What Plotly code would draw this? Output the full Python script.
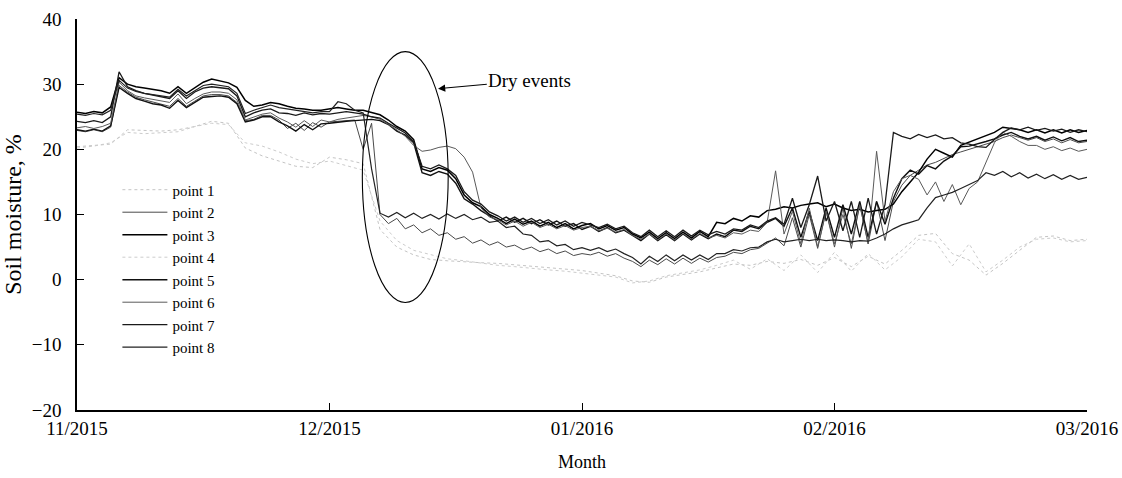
import plotly.graph_objects as go

# ---- data (daily readings, day 0 = 1 Nov 2015, day 120 = 1 Mar 2016) ----
DAYS = list(range(0, 121))
DAYS2 = list(range(0, 121, 2))

MONTH_TICKS = [0, 30, 60, 90, 120]
MONTH_LABELS = ["11/2015", "12/2015", "01/2016", "02/2016", "03/2016"]

point1 = [20.4, 20.6, 20.8, 23.0, 22.9, 22.8, 23.0, 23.5, 24.3, 24.0,
          20.2, 19.0, 18.2, 17.4, 17.2, 18.8, 18.4, 17.8, 7.7, 5.0,
          3.8, 3.1, 2.9, 2.7, 2.6, 2.5, 2.3, 2.1, 1.8, 1.6,
          1.4, 1.0, 0.6, -0.2, -0.4, 0.4, 0.8, 1.2, 1.8, 2.4,
          2.2, 2.8, 2.5, 3.1, 2.2, 3.4, 2.0, 3.6, 2.4, 4.5,
          6.8, 7.1, 4.0, 3.0, 0.7, 2.5, 4.5, 6.5, 6.7, 6.0, 6.2]

point4 = [20.2, 20.5, 21.0, 22.6, 22.4, 22.5, 22.7, 23.5, 24.0, 23.8,
          21.0, 20.5, 19.6, 18.5, 17.8, 18.2, 17.5, 16.8, 9.0, 6.0,
          4.5, 3.8, 3.2, 2.9, 2.5, 2.2, 2.0, 1.7, 1.5, 1.3,
          1.0, 0.8, 0.4, -0.5, -0.2, 0.6, 1.0, 1.5, 2.2, 3.0,
          1.6, 3.2, 1.4, 3.8, 1.1, 4.2, 1.3, 4.0, 1.5, 3.5,
          6.2, 5.8, 2.1, 5.5, 1.2, 3.0, 5.0, 6.2, 6.4, 5.8, 6.0]

point2 = [22.9, 22.7, 23.0, 22.7, 23.4, 29.8, 28.8, 28.0, 27.6, 27.3, 27.0,
          26.6, 27.8, 26.6, 27.4, 28.2, 28.4, 28.4, 28.2, 27.2, 24.4,
          24.6, 25.2, 25.2, 24.5, 23.2, 24.0, 22.9, 24.1, 23.4, 24.2,
          24.3, 24.4, 24.5, 20.0, 24.0, 10.0, 8.6, 9.4, 7.8, 8.4,
          7.2, 7.8, 6.8, 7.2, 6.2, 6.6, 5.6, 6.1, 5.3, 5.8,
          5.0, 5.3, 4.6, 5.0, 4.3, 4.7, 4.0, 4.4, 3.7, 4.0,
          3.8, 4.2, 3.6, 4.0, 3.3, 2.8, 2.0, 3.0, 2.3, 3.2,
          2.4, 3.3, 2.5, 3.3, 2.7, 3.4, 3.6, 4.2, 4.0, 4.6,
          4.8, 5.6, 6.4, 5.2, 9.5, 5.0, 10.0, 4.8, 10.5, 5.0,
          11.0, 4.8, 11.5, 5.5, 12.0, 6.0, 12.0, 14.5, 16.0, 16.8,
          17.6, 18.0, 18.6, 19.2, 19.6, 20.0, 20.4, 20.8, 21.2, 21.8,
          22.2, 21.8, 21.4, 21.8, 21.2, 21.6, 21.0, 21.5, 21.0, 21.2]

point3 = [25.7, 25.5, 25.8, 25.6, 26.5, 31.0, 30.0, 29.6, 29.4, 29.2, 29.0,
          28.6, 29.6, 28.6, 29.5, 30.3, 30.8, 30.5, 30.2, 29.5, 27.5,
          26.6, 26.8, 27.2, 27.0, 26.6, 26.3, 26.2, 26.0, 26.0, 26.2,
          26.4, 26.2, 26.0, 26.0, 25.6, 25.3, 24.5, 23.5, 22.8, 21.5,
          17.0, 16.6, 17.2, 16.8, 15.5, 13.0, 11.8, 11.2, 10.0, 9.4,
          8.6, 9.3, 8.5, 9.0, 8.2, 8.8, 8.0, 8.6, 7.8, 8.3,
          8.6, 7.8, 8.3, 7.6, 8.0, 7.0, 6.4, 7.3, 6.3, 7.2,
          6.3, 7.3, 6.4, 7.4, 6.6, 8.8, 8.6, 9.4, 9.0, 9.8,
          9.6, 10.6, 10.8, 11.2, 11.0, 11.4, 11.6, 11.8, 11.2, 11.6,
          11.0, 10.6, 10.8, 10.4, 10.6, 10.8, 11.6, 13.5, 15.0, 16.5,
          18.5, 20.0, 19.4, 18.8, 20.6, 21.1, 21.6, 22.0, 22.6, 23.4,
          23.2, 23.0, 22.6, 23.0, 22.5, 23.0, 22.5, 23.0, 22.6, 22.9]

point5 = [23.0, 22.8, 23.1, 22.8, 23.6, 29.5, 28.6, 27.8, 27.4, 27.0, 26.8,
          26.3, 27.5, 26.4, 27.2, 28.0, 28.1, 28.2, 28.0, 27.0, 24.2,
          24.5, 25.0, 25.0, 24.2, 23.6, 22.8, 23.8, 23.0, 23.9, 24.0,
          24.2, 24.3, 24.4, 24.5, 24.6, 24.4, 23.8, 22.8, 22.2, 21.0,
          16.4, 16.0, 16.6, 16.2, 14.8, 12.4, 11.6, 10.6, 9.8, 9.0,
          9.6, 8.8, 9.4, 8.6, 9.2, 8.4, 9.0, 8.2, 8.6, 7.7,
          8.2, 7.4, 8.0, 7.2, 7.6, 6.8, 6.0, 7.0, 6.0, 6.9,
          6.0, 7.0, 6.1, 7.0, 6.3, 7.0, 6.6, 7.6, 7.4, 8.2,
          7.8, 8.8, 9.4, 8.2, 11.0, 6.5, 10.5, 6.0, 11.0, 6.5,
          11.5, 7.0, 12.0, 6.5, 12.0, 8.5, 12.5, 15.5, 16.8, 16.2,
          17.5, 17.0, 18.2, 19.0, 20.4, 20.5, 20.8, 21.2, 21.6, 22.2,
          22.6, 22.0, 21.6, 22.0, 21.4, 21.9, 21.3, 21.8, 21.2, 21.4]

point6 = [23.3, 23.5, 23.2, 23.5, 24.0, 30.3, 29.0, 28.2, 27.9, 27.7, 27.5,
          27.2, 28.5, 27.0, 27.8, 28.5, 28.8, 28.8, 28.6, 27.6, 24.5,
          25.0, 25.4, 25.6, 24.8, 24.2, 23.4, 24.4, 23.5, 24.5, 24.2,
          24.6, 24.8, 25.0, 25.2, 25.0, 24.6, 23.8, 23.0, 22.0, 20.6,
          19.7, 19.9, 20.3, 20.5, 20.1, 18.8, 16.5, 11.0, 9.6, 9.2,
          8.4, 9.0, 8.2, 8.8, 8.0, 8.5, 7.8, 8.3, 7.6, 8.0,
          8.2, 7.5, 7.9, 7.3, 7.7, 6.8, 6.2, 7.0, 6.1, 7.0,
          6.1, 7.1, 6.2, 7.1, 6.4, 6.8, 6.4, 7.2, 7.0, 7.6,
          7.4, 8.8, 16.7, 7.0, 10.5, 5.5, 11.0, 5.0, 10.5, 5.5,
          10.0, 5.5, 11.5, 5.5, 19.7, 9.0, 13.5, 15.5, 16.0, 15.4,
          13.0, 15.0, 12.0, 14.6, 11.5, 14.0, 15.0, 18.0, 21.0, 22.6,
          22.0, 21.2, 20.6, 20.6, 20.0, 20.4, 19.8, 20.2, 19.7, 20.0]

point7 = [24.3, 24.1, 24.4, 24.1, 25.0, 31.9, 29.6, 29.0, 28.6, 28.3, 28.1,
          27.8, 29.0, 27.8, 28.8, 29.4, 29.6, 29.5, 29.3, 28.2, 25.0,
          25.6, 26.0, 26.2, 25.6, 25.5, 25.2, 25.6, 25.3, 25.5, 25.4,
          25.6, 25.8, 25.6, 25.4, 25.0, 24.8, 24.0, 23.2, 22.5, 21.2,
          17.4, 17.0, 17.6, 17.0, 16.0, 13.5, 12.2, 11.6, 10.4, 9.8,
          9.0, 9.6, 8.8, 9.4, 8.6, 9.2, 8.4, 9.0, 8.2, 8.8,
          8.4, 8.0, 8.5, 7.8, 8.2, 7.2, 6.6, 7.6, 6.6, 7.5,
          6.6, 7.6, 6.7, 7.6, 6.9, 7.4, 7.0, 7.8, 7.6, 8.4,
          8.0, 9.0, 9.5, 8.5, 12.5, 8.0, 11.5, 15.9, 9.0, 12.0,
          7.5, 12.0, 6.5, 12.5, 7.0, 11.5, 22.6, 22.0, 21.6, 22.3,
          21.8, 22.2, 21.6, 21.8, 21.0, 20.8, 20.4, 20.3, 21.5, 22.6,
          23.3, 23.0, 23.4, 22.9, 23.2, 22.8, 23.1, 22.6, 23.0, 22.7]

point8 = [25.4, 25.2, 25.5, 25.3, 26.0, 30.6, 29.4, 28.9, 28.6, 28.4, 28.2,
          28.0, 29.2, 28.2, 29.0, 29.8, 30.0, 29.8, 29.6, 28.6, 25.5,
          26.0, 26.4, 26.8, 26.4, 26.2, 26.0, 25.8, 25.6, 25.8, 25.8,
          27.3, 27.0, 26.0, 25.6, 17.0, 10.2, 9.6, 10.3, 9.5, 10.2,
          9.4, 10.0, 9.3, 10.1, 9.4, 10.0, 9.2, 9.6, 8.8, 9.0,
          8.0, 8.2, 7.0, 6.8, 5.8, 6.0, 5.2, 5.4, 4.6, 4.9,
          4.5, 4.9, 4.3, 4.7, 4.0, 3.4, 2.4, 3.6, 2.8, 3.8,
          2.9, 3.8, 3.0, 3.8, 3.1, 4.0, 4.0, 4.6, 4.4, 4.9,
          5.0, 5.8, 6.2, 5.8, 6.0, 6.2, 6.0, 6.2, 6.0, 6.1,
          6.0, 5.8, 6.0, 5.9, 6.4, 7.0, 7.8, 8.4, 8.8, 9.2,
          11.0, 12.6, 13.0, 13.4, 14.0, 14.6, 15.2, 16.4, 16.0, 16.6,
          15.8, 16.4, 15.6, 16.2, 15.5, 16.1, 15.4, 16.0, 15.4, 15.7]

FONT = "Liberation Serif"

series = [
    ("point 1", DAYS2, point1, dict(color="#c4c4c4", width=1.0, dash="dot")),
    ("point 2", DAYS, point2, dict(color="#4a4a4a", width=1.0)),
    ("point 3", DAYS, point3, dict(color="#000000", width=1.5)),
    ("point 4", DAYS2, point4, dict(color="#cccccc", width=1.0, dash="dot")),
    ("point 5", DAYS, point5, dict(color="#111111", width=1.4)),
    ("point 6", DAYS, point6, dict(color="#5a5a5a", width=1.0)),
    ("point 7", DAYS, point7, dict(color="#1a1a1a", width=1.3)),
    ("point 8", DAYS, point8, dict(color="#222222", width=1.2)),
]

fig = go.Figure()
for name, xs, ys, line in series:
    fig.add_trace(go.Scatter(x=xs, y=ys, mode="lines", name=name, line=line))

fig.add_shape(type="circle", xref="x", yref="y", x0=33.9, x1=44.1, y0=-3.5, y1=35,
              line=dict(color="black", width=1.1))

fig.add_annotation(x=42.9, y=29.3, xref="x", yref="y", ax=53.8, ay=30.6,
                   axref="x", ayref="y", text="Dry events", showarrow=True,
                   arrowhead=2, arrowsize=1.3, arrowwidth=1.1, arrowcolor="black",
                   font=dict(family=FONT, size=19, color="black"))

axis_common = dict(showline=True, linecolor="black", linewidth=1.5, ticks="inside",
                   ticklen=7, tickwidth=1.2, tickcolor="black", showgrid=False,
                   zeroline=False, automargin=False,
                   tickfont=dict(family=FONT, size=19, color="black"))

fig.update_xaxes(range=[0, 120], tickvals=MONTH_TICKS, ticktext=MONTH_LABELS,
                 ticklabelstandoff=0,
                 title=dict(text="Month", font=dict(family=FONT, size=18, color="black"),
                            standoff=18),
                 **axis_common)
fig.update_yaxes(range=[-20, 40], tickvals=[-20, -10, 0, 10, 20, 30, 40],
                 ticklabelstandoff=10,
                 title=dict(text="Soil moisture, %", font=dict(family=FONT, size=24, color="black"),
                            standoff=4),
                 **axis_common)

fig.update_layout(
    width=1122, height=478,
    margin=dict(l=77, r=35, t=19, b=68),
    paper_bgcolor="white", plot_bgcolor="white",
    font=dict(family=FONT, size=17, color="black"),
    legend=dict(x=0.04, y=0.605, xanchor="left", yanchor="top", itemwidth=45,
                bgcolor="rgba(0,0,0,0)", font=dict(family=FONT, size=15, color="black"),
                tracegroupgap=0),
)

fig.write_html("out.html")
